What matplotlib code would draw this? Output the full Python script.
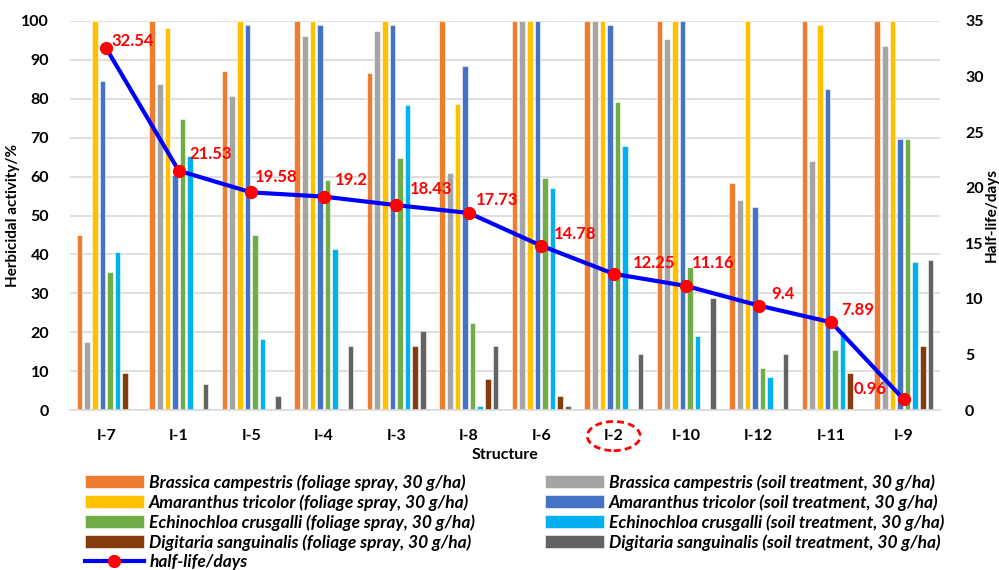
import numpy as np
import matplotlib
matplotlib.use("Agg")
import matplotlib.pyplot as plt
from matplotlib.patches import Ellipse
import matplotlib.transforms as mtransforms

plt.rcParams["font.family"] = ["Lato", "DejaVu Sans"]

structures = ["I-7", "I-1", "I-5", "I-4", "I-3", "I-8", "I-6", "I-2", "I-10", "I-12", "I-11", "I-9"]

brassica_foliage = [45, 100, 87.1, 100, 86.7, 100, 100, 100, 100, 58.4, 100, 100]
brassica_soil = [17.5, 83.9, 80.7, 96.1, 97.4, 60.8, 100, 100, 95.5, 54.0, 64.1, 93.6]
amaranthus_foliage = [100, 98.2, 100, 100, 100, 78.7, 100, 100, 100, 100, 99.1, 100]
amaranthus_soil = [84.7, 60.4, 99.1, 99.1, 99.1, 88.5, 100, 99.1, 100, 52.2, 82.5, 69.6]
echinochloa_foliage = [35.6, 74.8, 45.1, 59.1, 64.7, 22.4, 59.6, 79.1, 36.8, 10.9, 15.3, 69.7]
echinochloa_soil = [40.5, 65.3, 18.3, 41.5, 78.5, 1.0, 57.1, 67.9, 19.1, 8.5, 20.1, 38.1]
digitaria_foliage = [9.4, 0, 0, 0, 16.5, 8.0, 3.6, 0, 0, 0, 9.4, 16.5]
digitaria_soil = [0, 6.7, 3.7, 16.4, 20.2, 16.4, 0.9, 14.4, 28.9, 14.4, 0, 38.6]

half_life = [32.54, 21.53, 19.58, 19.2, 18.43, 17.73, 14.78, 12.25, 11.16, 9.4, 7.89, 0.96]

series = [
    ("Brassica campestris (foliage spray, 30 g/ha)", brassica_foliage, "#ED7D31"),
    ("Brassica campestris (soil treatment, 30 g/ha)", brassica_soil, "#A5A5A5"),
    ("Amaranthus tricolor (foliage spray, 30 g/ha)", amaranthus_foliage, "#FFC000"),
    ("Amaranthus tricolor (soil treatment, 30 g/ha)", amaranthus_soil, "#4472C4"),
    ("Echinochloa crusgalli (foliage spray, 30 g/ha)", echinochloa_foliage, "#70AD47"),
    ("Echinochloa crusgalli (soil treatment, 30 g/ha)", echinochloa_soil, "#00B0F0"),
    ("Digitaria sanguinalis (foliage spray, 30 g/ha)", digitaria_foliage, "#843C0C"),
    ("Digitaria sanguinalis (soil treatment, 30 g/ha)", digitaria_soil, "#636363"),
]

# label offsets in pixels (dx, dy) for the half-life annotations
label_offsets = [(5, 7), (11, 17), (4, 15), (11, 17), (14, 16), (7, 13),
                 (13, 12), (19, 11), (6, 23), (12, 12), (10, 12), (-17, 10)]

fs = 11.5
fig = plt.figure(figsize=(9.99, 5.70), dpi=100)
ax = fig.add_axes([70 / 999, 160 / 570, 870 / 999, 389 / 570])

x = np.arange(len(structures))
slot = 0.105
bw = 0.078
bars = []
for j, (name, vals, col) in enumerate(series):
    b = ax.bar(x + (j - 3.5) * slot, vals, bw, color=col, edgecolor="white",
               linewidth=0.4, label=name, zorder=2)
    bars.append(b)

ax.set_ylim(0, 100)
ax.set_xlim(-0.5, len(structures) - 0.5)
ax.set_yticks(np.arange(0, 101, 10))
ax.grid(axis="y", color="#D9D9D9", linewidth=1.2, zorder=0)
ax.set_axisbelow(True)
for s in ["top", "left", "right"]:
    ax.spines[s].set_visible(False)
ax.spines["bottom"].set_color("#D9D9D9")
ax.spines["bottom"].set_linewidth(1.2)
ax.tick_params(axis="y", length=0, labelsize=fs, pad=15)
ax.tick_params(axis="x", length=0, pad=14)
ax.set_xticks(x)
ax.set_xticklabels(structures, fontweight="bold", fontsize=fs)
for t in ax.get_yticklabels():
    t.set_fontweight("bold")
ax.set_ylabel("Herbicidal activity/%", fontsize=11, fontweight="bold", labelpad=1)
ax.set_xlabel("Structure", fontsize=fs, fontweight="bold", labelpad=3)

ax2 = ax.twinx()
ax2.set_ylim(0, 35)
ax2.set_yticks(np.arange(0, 36, 5))
for s in ["top", "left", "right", "bottom"]:
    ax2.spines[s].set_visible(False)
ax2.tick_params(axis="y", length=0, labelsize=fs, pad=18)
for t in ax2.get_yticklabels():
    t.set_fontweight("bold")
ax2.set_ylabel("Half-life/days", fontsize=11, fontweight="bold", labelpad=1)
line, = ax2.plot(x, half_life, color="#0000FF", linewidth=3, marker="o",
                 markersize=8.5, markerfacecolor="#FF0000", markeredgecolor="#FF0000",
                 zorder=5, label="half-life/days")
for xi, yi, (dx, dy) in zip(x, half_life, label_offsets):
    ax2.annotate(f"{yi:g}", (xi, yi), xytext=(dx, dy), textcoords="offset pixels",
                 ha="left" if dx > 0 else "right", va="center", color="#FF0000",
                 fontsize=12, fontweight="bold", zorder=6)

# dashed circle around I-2
trans = mtransforms.blended_transform_factory(ax.transData, ax.transAxes)
ax.add_patch(Ellipse((structures.index("I-2"), -0.067), 0.73, 0.075, transform=trans,
                     fill=False, edgecolor="#FF0000", linestyle=(0, (2.5, 1.5)),
                     linewidth=2, clip_on=False))

handles = [bars[0], bars[2], bars[4], bars[6], line, bars[1], bars[3], bars[5], bars[7]]
labels = [h.get_label() for h in handles]
leg = fig.legend(handles, labels, ncol=2, loc="upper left",
                 bbox_to_anchor=(78 / 999, 1 - 467 / 570), frameon=False,
                 prop={"style": "italic", "size": 12.5, "weight": "bold"},
                 handlelength=3.4, handleheight=0.75, handletextpad=0.3,
                 labelspacing=0.2, columnspacing=4.0, borderaxespad=0)

fig.savefig("out.png", dpi=100)
